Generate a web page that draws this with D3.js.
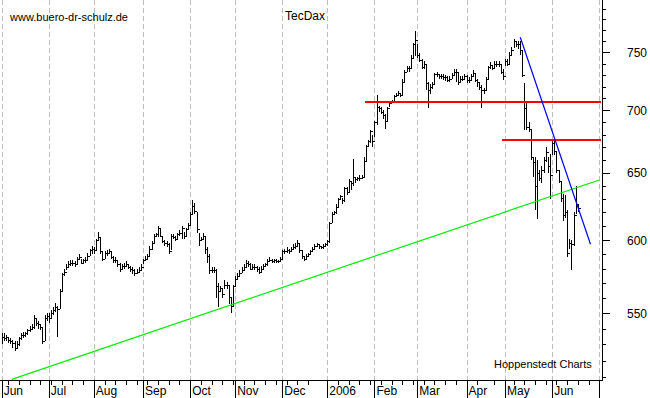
<!DOCTYPE html>
<html>
<head>
<meta charset="utf-8">
<script src="https://cdn.jsdelivr.net/npm/d3@7"></script>
<style>
  body { margin: 0; background: #fff; }
  svg { display: block; font-family: "Liberation Sans", Arial, sans-serif; }
</style>
</head>
<body>
<div id="chart"></div>
<script>
// trading calendar (Xetra), Jun 2005 - Jun 2006
var startDate = new Date(2005, 5, 1), endDate = new Date(2006, 6, 1);
var holidays = ["2005-12-26", "2006-04-14", "2006-04-17", "2006-05-01"];
var monthLabels = ["Jun", "Jul", "Aug", "Sep", "Oct", "Nov", "Dec", "2006", "Feb", "Mar", "Apr", "May", "Jun"];
var priceLabels = [550, 600, 650, 700, 750];

// TecDax daily bars, one value per trading day from 1 Jun 2005
var closes = [
  535, 534, 535, 533, 532, 531, 528, 530, 534, 536, 536, 537, 539, 540, 541, 547, 544, 543, 541, 532, 547, 548,
  547, 550, 552, 554, 553, 565, 576, 578, 581, 583, 584, 584, 583, 587, 588, 584, 586, 586, 589, 593, 594,
  593, 600, 602, 592, 587, 591, 591, 592, 588, 586, 586, 583, 580, 582, 582, 583, 581, 580, 579, 577, 578, 579, 581,
  586, 587, 589, 594, 598, 603, 604, 609, 603, 599, 598, 597, 592, 603, 602, 601, 604, 605, 609, 603, 608, 611,
  619, 625, 621, 608, 600, 601, 603, 594, 589, 579, 579, 579, 568, 565, 567, 563, 569, 569, 561, 555, 568,
  573, 575, 577, 579, 581, 584, 583, 580, 581, 581, 580, 578, 580, 582, 583, 585, 586, 585, 586, 585, 585, 587,
  592, 592, 593, 592, 594, 595, 596, 598, 593, 589, 587, 589, 590, 592, 594, 596, 597, 596, 595, 596, 597,
  599, 612, 619, 620, 624, 630, 632, 629, 638, 635, 644, 642, 647, 645, 646, 646, 647, 659, 671, 675, 683, 675,
  690, 703, 702, 699, 696, 691, 702, 706, 708, 712, 713, 715, 713, 724, 733, 736, 736, 745, 757, 761,
  748, 743, 737, 740, 723, 717, 720, 722, 731, 731, 729, 729, 728, 728, 726, 727, 730, 733, 733, 724, 727, 727, 729,
  726, 726, 729, 732, 726, 724, 720, 717, 717, 727, 737, 739, 736, 740, 740, 740, 733, 729,
  742, 740, 748, 752, 760, 757, 757, 752, 730, 702, 686, 685, 662, 658, 640, 650, 646, 652, 660, 666, 655, 648,
  673, 667, 652, 644, 631, 618, 620, 591, 598, 597, 618, 626, 623
];
var highs = [
  537, 537, 536, 535, 534, 533, 532, 532, 535, 537, 538, 538, 540, 542, 543, 549, 547, 545, 543, 541, 549, 550,
  550, 552, 554, 557, 555, 566, 577, 580, 583, 585, 586, 586, 585, 588, 590, 587, 587, 588, 591, 594, 596,
  595, 601, 606, 602, 592, 592, 593, 594, 592, 589, 588, 586, 584, 583, 584, 585, 583, 582, 581, 580, 580, 581, 583,
  587, 589, 590, 596, 599, 604, 605, 610, 608, 603, 600, 599, 598, 604, 604, 603, 605, 607, 610, 606, 609, 612,
  620, 629, 627, 620, 605, 602, 605, 603, 595, 590, 581, 581, 580, 570, 568, 567, 572, 571, 569, 560, 569,
  575, 577, 579, 581, 583, 586, 585, 584, 583, 583, 582, 581, 582, 583, 584, 587, 588, 587, 587, 587, 586, 588,
  593, 594, 595, 594, 595, 597, 598, 600, 598, 593, 589, 590, 591, 593, 595, 597, 598, 597, 596, 597, 598,
  600, 613, 620, 621, 626, 631, 633, 631, 639, 639, 645, 644, 661, 647, 647, 648, 648, 662, 672, 676, 684, 680,
  691, 713, 704, 703, 700, 697, 703, 707, 709, 713, 715, 716, 715, 727, 734, 738, 738, 748, 758, 769,
  757, 749, 744, 742, 740, 724, 722, 724, 732, 733, 731, 731, 731, 730, 729, 729, 732, 735, 735, 733, 729, 729, 731,
  730, 728, 731, 734, 732, 727, 724, 721, 719, 728, 738, 741, 739, 742, 742, 742, 740, 735,
  744, 744, 750, 755, 762, 760, 760, 760, 752, 723, 706, 690, 684, 662, 662, 660, 652, 655, 662, 670, 662, 665,
  676, 675, 667, 652, 644, 634, 633, 622, 601, 600, 620, 640, 626
];
var lows = [
  530, 532, 532, 531, 530, 528, 526, 527, 529, 533, 534, 535, 536, 538, 539, 540, 542, 540, 539, 530, 532, 545,
  544, 546, 549, 551, 535, 553, 565, 575, 579, 581, 582, 582, 581, 583, 586, 583, 583, 584, 585, 589, 590,
  590, 592, 599, 590, 585, 587, 589, 590, 587, 584, 584, 581, 578, 580, 580, 581, 580, 578, 576, 575, 576, 578, 579,
  583, 586, 587, 588, 593, 597, 602, 602, 602, 598, 596, 595, 590, 593, 601, 599, 601, 603, 601, 601, 603, 607,
  610, 618, 619, 605, 596, 599, 600, 590, 584, 576, 577, 577, 560, 554, 565, 560, 566, 566, 556, 550, 555,
  568, 572, 575, 577, 579, 581, 581, 579, 579, 579, 578, 576, 578, 579, 581, 582, 585, 584, 584, 584, 584, 585,
  587, 590, 591, 590, 592, 593, 594, 595, 591, 587, 585, 587, 588, 590, 592, 594, 595, 594, 594, 594, 595,
  596, 598, 612, 618, 619, 623, 629, 626, 628, 633, 635, 637, 640, 642, 644, 644, 645, 647, 659, 670, 673, 670,
  678, 688, 699, 697, 693, 685, 690, 703, 706, 708, 711, 712, 711, 712, 723, 733, 733, 735, 744, 747,
  745, 741, 735, 735, 717, 702, 714, 718, 721, 728, 727, 727, 726, 725, 724, 724, 727, 730, 724, 721, 724, 725, 726,
  723, 723, 726, 728, 724, 720, 717, 702, 714, 716, 726, 735, 734, 736, 737, 737, 731, 726,
  738, 738, 740, 748, 754, 755, 753, 748, 728, 684, 684, 682, 660, 647, 622, 615, 644, 642, 650, 658, 650, 630,
  664, 664, 650, 642, 628, 614, 616, 588, 594, 579, 596, 619, 620
];

// trend lines: [trading day index, value]
var supportLine = [[4.7, 508.5], [279, 644.4]];
var resistance1 = [[169.6, 706.7], [279.8, 706.7]];
var resistance2 = [[233.6, 676], [279.8, 676]];
var downTrend = [[242.1, 763.5], [274.9, 597]];

var width = 650, height = 398;
var plotBottom = 380, axisX = 602;

var fmt = d3.timeFormat("%Y-%m-%d");
var days = d3.timeDay.range(startDate, endDate).filter(function(d) {
  return d.getDay() > 0 && d.getDay() < 6 && holidays.indexOf(fmt(d)) < 0;
});

var x = d3.scaleLinear().domain([0, days.length]).range([1.7, 599.3]);
var y = d3.scaleLog().domain([550, 750]).range([313.3, 52.3]);

var monthStarts = [], mondays = [];
days.forEach(function(d, i) {
  if (i == 0 || d.getMonth() != days[i - 1].getMonth()) monthStarts.push(i);
  else if (d.getDay() == 1) mondays.push(i);
});
monthStarts.push(days.length);

var svg = d3.select("#chart").append("svg")
  .attr("width", width)
  .attr("height", height)
  .style("background", "#fff");

svg.append("defs").append("clipPath").attr("id", "plot")
  .append("rect").attr("x", 0).attr("y", 0).attr("width", axisX).attr("height", plotBottom);

function px(v) { return Math.round(v) + 0.5; }

// month grid lines
svg.append("g").selectAll("line")
  .data(monthStarts)
  .enter().append("line")
  .attr("x1", function(d) { return px(x(d)); })
  .attr("x2", function(d) { return px(x(d)); })
  .attr("y1", 0).attr("y2", plotBottom)
  .attr("stroke", "#bdbdbd")
  .attr("stroke-dasharray", "5,3");

// price bars
var bars = closes.map(function(c, i) { return { i: i, h: highs[i], l: lows[i], c: c }; });
svg.append("path")
  .attr("d", bars.map(function(b) {
    var xi = Math.round(x(b.i));
    var yh = Math.round(y(b.h)), yl = Math.round(y(b.l));
    if (yl - yh < 1) yl = yh + 1;
    var yc = Math.round(y(b.c)) + 0.5;
    return "M" + (xi + 0.5) + "," + yh + "V" + yl + "M" + (xi + 1) + "," + yc + "h1.5";
  }).join(""))
  .attr("fill", "none")
  .attr("stroke", "#000")
  .attr("stroke-width", 1.2)
  .attr("shape-rendering", "crispEdges");

// trend lines
var line = d3.line()
  .x(function(d) { return x(d[0]); })
  .y(function(d) { return y(d[1]); });
var flat = d3.line()
  .x(function(d) { return Math.round(x(d[0])); })
  .y(function(d) { return Math.round(y(d[1])); });
var trends = svg.append("g").attr("clip-path", "url(#plot)");
trends.append("path").attr("d", line(supportLine))
  .attr("stroke", "#00ee00").attr("stroke-width", 1.2).attr("fill", "none");
[resistance1, resistance2].forEach(function(r) {
  trends.append("path").attr("d", flat(r))
    .attr("stroke", "#ff0000").attr("stroke-width", 2).attr("fill", "none")
    .attr("shape-rendering", "crispEdges");
});
trends.append("path").attr("d", line(downTrend))
  .attr("stroke", "#0000ff").attr("stroke-width", 1.2).attr("fill", "none");

// right axis
var ax = svg.append("g").attr("shape-rendering", "crispEdges");
ax.append("line")
  .attr("x1", axisX + 0.5).attr("x2", axisX + 0.5)
  .attr("y1", 0).attr("y2", plotBottom + 1)
  .attr("stroke", "#000");
var minorTicks = d3.range(510, 800, 10).filter(function(v) { return y(v) > 0 && y(v) < plotBottom; });
ax.selectAll(".ytick")
  .data(minorTicks)
  .enter().append("line")
  .attr("x1", axisX)
  .attr("x2", function(v) { return v % 50 == 0 ? axisX + 8 : axisX + 4; })
  .attr("y1", function(v) { return px(y(v)); })
  .attr("y2", function(v) { return px(y(v)); })
  .attr("stroke", "#000");
svg.selectAll(".ylabel")
  .data(priceLabels)
  .enter().append("text")
  .attr("x", 627)
  .attr("y", function(v) { return y(v) + 4.5; })
  .attr("font-size", 12)
  .attr("fill", "#000")
  .text(function(v) { return v; });

// bottom axis
ax.append("line")
  .attr("x1", 0).attr("x2", axisX + 1)
  .attr("y1", plotBottom + 0.5).attr("y2", plotBottom + 0.5)
  .attr("stroke", "#000");
ax.selectAll(".wtick")
  .data(mondays)
  .enter().append("line")
  .attr("x1", function(d) { return px(x(d)); })
  .attr("x2", function(d) { return px(x(d)); })
  .attr("y1", plotBottom).attr("y2", plotBottom + 5)
  .attr("stroke", "#000");
ax.selectAll(".mtick")
  .data(monthStarts)
  .enter().append("line")
  .attr("x1", function(d) { return px(x(d)); })
  .attr("x2", function(d) { return px(x(d)); })
  .attr("y1", plotBottom).attr("y2", height)
  .attr("stroke", "#000");
svg.selectAll(".mlabel")
  .data(monthLabels)
  .enter().append("text")
  .attr("x", function(d, k) { return x(monthStarts[k]) + 2; })
  .attr("y", 395)
  .attr("font-size", 12)
  .attr("fill", "#000")
  .text(function(d) { return d; });

// titles
svg.append("text").attr("x", 10).attr("y", 21).attr("font-size", 11)
  .text("www.buero-dr-schulz.de");
svg.append("text").attr("x", 285).attr("y", 20).attr("font-size", 12)
  .text("TecDax");
svg.append("text").attr("x", 494).attr("y", 368).attr("font-size", 11)
  .text("Hoppenstedt Charts");
</script>
</body>
</html>
